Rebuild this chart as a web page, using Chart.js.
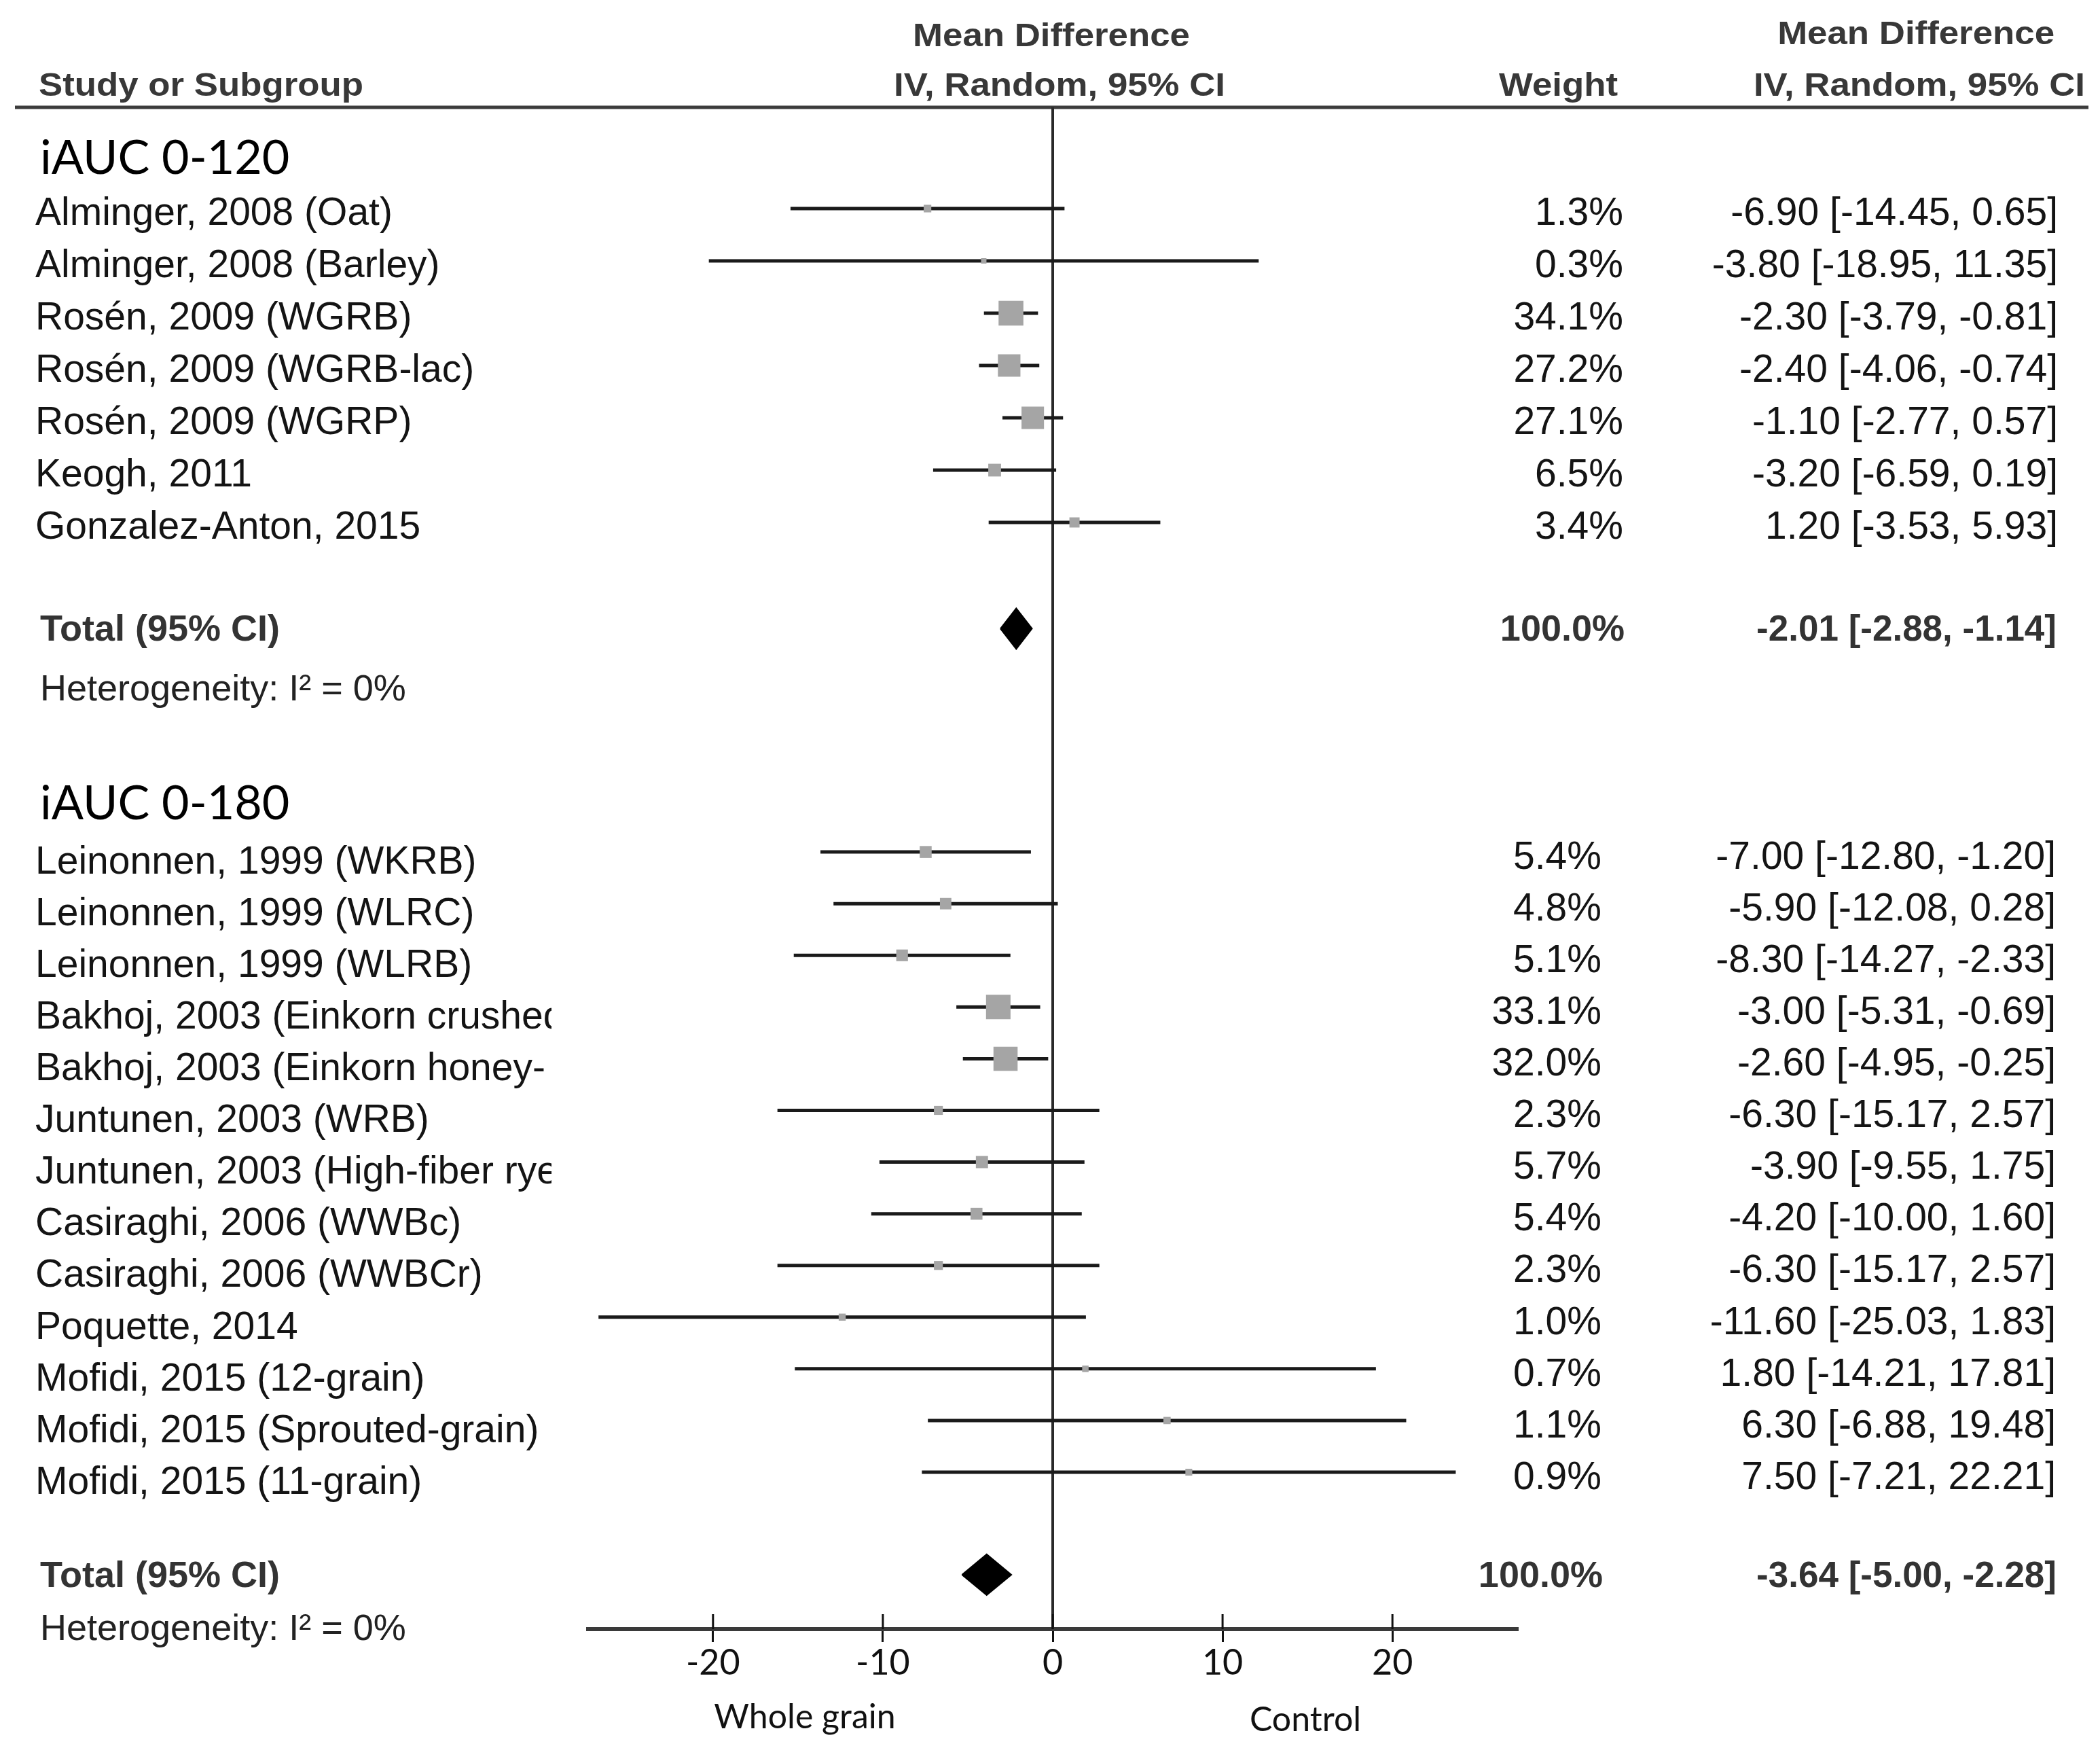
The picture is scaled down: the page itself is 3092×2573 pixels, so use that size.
<!DOCTYPE html>
<html>
<head>
<meta charset="utf-8">
<title>Forest plot - iAUC</title>
<script src="https://cdn.jsdelivr.net/npm/chart.js@4.4.1/dist/chart.umd.min.js"></script>
<style>
    html, body { margin: 0; padding: 0; background: #ffffff; }
    canvas { display: block; }
</style>
</head>
<body>
<canvas id="forestChart" width="3092" height="2573"></canvas>
<script>
// iAUC 0-120
const studies120 = ['Alminger, 2008 (Oat)', 'Alminger, 2008 (Barley)', 'Rosén, 2009 (WGRB)', 'Rosén, 2009 (WGRB-lac)',
    'Rosén, 2009 (WGRP)', 'Keogh, 2011', 'Gonzalez-Anton, 2015'];
const md120 = [-6.90, -3.80, -2.30, -2.40, -1.10, -3.20, 1.20];
const lo120 = [-14.45, -18.95, -3.79, -4.06, -2.77, -6.59, -3.53];
const hi120 = [0.65, 11.35, -0.81, -0.74, 0.57, 0.19, 5.93];
const weight120 = [1.3, 0.3, 34.1, 27.2, 27.1, 6.5, 3.4];

// iAUC 0-180 (long labels are cut off in the original)
const studies180 = ['Leinonnen, 1999 (WKRB)', 'Leinonnen, 1999 (WLRC)', 'Leinonnen, 1999 (WLRB)',
    'Bakhoj, 2003 (Einkorn crushed', 'Bakhoj, 2003 (Einkorn honey-', 'Juntunen, 2003 (WRB)',
    'Juntunen, 2003 (High-fiber rye', 'Casiraghi, 2006 (WWBc)', 'Casiraghi, 2006 (WWBCr)', 'Poquette, 2014',
    'Mofidi, 2015 (12-grain)', 'Mofidi, 2015 (Sprouted-grain)', 'Mofidi, 2015 (11-grain)'];
const md180 = [-7.00, -5.90, -8.30, -3.00, -2.60, -6.30, -3.90, -4.20, -6.30, -11.60, 1.80, 6.30, 7.50];
const lo180 = [-12.80, -12.08, -14.27, -5.31, -4.95, -15.17, -9.55, -10.00, -15.17, -25.03, -14.21, -6.88, -7.21];
const hi180 = [-1.20, 0.28, -2.33, -0.69, -0.25, 2.57, 1.75, 1.60, 2.57, 1.83, 17.81, 19.48, 22.21];
const weight180 = [5.4, 4.8, 5.1, 33.1, 32.0, 2.3, 5.7, 5.4, 2.3, 1.0, 0.7, 1.1, 0.9];

// pooled results
const groupNames = ['iAUC 0-120', 'iAUC 0-180'];
const totalMd = [-2.01, -3.64];
const totalLo = [-2.88, -5.00];
const totalHi = [-1.14, -2.28];
const totalWeight = [100.0, 100.0];
const heterogeneity = ['Heterogeneity: I² = 0%', 'Heterogeneity: I² = 0%'];

// axis
const axisTicks = [-20, -10, 0, 10, 20];
const axisLeftLabel = 'Whole grain';
const axisRightLabel = 'Control';

// ---- layout (pixels / row units) ----
const W = 3092, H = 2573;
const ROW_PX = 77;
const FIRST_ROW_PX = 307;
const AXIS_Y = 2398;
const PLOT_LEFT = 866, PLOT_RIGHT = 2234;
const DATA_HALF = 25.6;   // marks scale
const AXIS_HALF = 27.35;  // printed axis scale
const SANS = '"Liberation Sans", Arial, sans-serif';
const CAL = 'Lato, "Open Sans", sans-serif';

function buildGroup(names, md, lo, hi, w, first, pitch) {
    return names.map((n, i) => ({ name: n, md: md[i], lo: lo[i], hi: hi[i], w: w[i], slot: first + i * pitch }));
}

const g1First = 0;
const rows120 = buildGroup(studies120, md120, lo120, hi120, weight120, g1First, 1);
const total1Slot = rows120[rows120.length - 1].slot + 2.03;
const g2First = total1Slot + 4.27;
const rows180 = buildGroup(studies180, md180, lo180, hi180, weight180, g2First, 0.988);
const total2Slot = rows180[rows180.length - 1].slot + 1.96;

const groups = [
    { rows: rows120, first: g1First, header: 0.96, total: total1Slot, het: 1.18,
      labelDy: 8, valueDy: 8, weightRight: 2390, ciRight: 3030 },
    { rows: rows180, first: g2First, header: 0.92, total: total2Slot, het: 1.05,
      labelDy: 16, valueDy: 9, weightRight: 2358, ciRight: 3027 }
];
const allRows = rows120.concat(rows180);

function ciText(m, l, h) {
    return m.toFixed(2) + ' [' + l.toFixed(2) + ', ' + h.toFixed(2) + ']';
}

// ---- datasets ----
const ciDatasets = allRows.map(r => ({
    type: 'line',
    data: [{ x: r.lo, y: r.slot }, { x: r.hi, y: r.slot }],
    borderColor: '#1a1a1a',
    borderWidth: 5,
    pointRadius: 0,
    fill: false,
    order: 3,
    clip: false
}));

const squareDataset = {
    type: 'scatter',
    data: allRows.map(r => ({ x: r.md, y: r.slot })),
    pointStyle: 'rect',
    pointRadius: allRows.map(r => (5 + 5.4 * Math.sqrt(r.w)) / Math.SQRT2),
    backgroundColor: '#a5a5a5',
    borderWidth: 0,
    order: 1,
    clip: false
};

const DIAMOND_H = 0.39;
const diamondDatasets = groups.map((g, i) => ({
    type: 'line',
    data: [
        { x: totalLo[i], y: g.total },
        { x: totalMd[i], y: g.total - DIAMOND_H },
        { x: totalHi[i], y: g.total },
        { x: totalMd[i], y: g.total + DIAMOND_H },
        { x: totalLo[i], y: g.total }
    ],
    borderColor: '#000000',
    backgroundColor: '#000000',
    borderWidth: 2,
    pointRadius: 0,
    tension: 0,
    fill: 'shape',
    order: 0,
    clip: false
}));

function drawText(ctx, text, x, y, font, color, align, sx) {
    ctx.save();
    ctx.font = font;
    ctx.fillStyle = color;
    ctx.textAlign = align;
    ctx.textBaseline = 'middle';
    ctx.translate(x, y);
    ctx.scale(sx || 1, 1);
    ctx.fillText(text, 0, 0);
    ctx.restore();
}

const forestDecor = {
    id: 'forestDecor',
    beforeDatasetsDraw(chart) {
        const ctx = chart.ctx;
        const x0 = chart.scales.x.getPixelForValue(0);
        ctx.save();
        // header rule
        ctx.strokeStyle = '#3c3c3c';
        ctx.lineWidth = 5;
        ctx.beginPath();
        ctx.moveTo(22, 158);
        ctx.lineTo(3075, 158);
        ctx.stroke();
        // line of no effect
        ctx.strokeStyle = '#2a2a2a';
        ctx.lineWidth = 4;
        ctx.beginPath();
        ctx.moveTo(x0, 158);
        ctx.lineTo(x0, chart.chartArea.bottom);
        ctx.stroke();
        ctx.restore();
    },
    afterDraw(chart) {
        const ctx = chart.ctx;
        const yS = chart.scales.y;
        const xA = chart.scales.xAxis;

        // upper half of axis tick marks
        ctx.save();
        ctx.strokeStyle = '#111111';
        ctx.lineWidth = 3;
        axisTicks.forEach(v => {
            const px = xA.getPixelForValue(v);
            ctx.beginPath();
            ctx.moveTo(px, AXIS_Y - 22);
            ctx.lineTo(px, AXIS_Y);
            ctx.stroke();
        });
        ctx.restore();

        // column headers
        const hb = 'bold 48px ' + SANS;
        const hc = '#383838';
        drawText(ctx, 'Mean Difference', 1548, 55, hb, hc, 'center', 1.1);
        drawText(ctx, 'IV, Random, 95% CI', 1560, 128, hb, hc, 'center', 1.1);
        drawText(ctx, 'Study or Subgroup', 57, 128, hb, hc, 'left', 1.1);
        drawText(ctx, 'Weight', 2382, 128, hb, hc, 'right', 1.1);
        drawText(ctx, 'Mean Difference', 3025, 52, hb, hc, 'right', 1.1);
        drawText(ctx, 'IV, Random, 95% CI', 3070, 128, hb, hc, 'right', 1.1);

        const rowFont = '57px ' + SANS;
        const boldFont = 'bold 54px ' + SANS;
        groups.forEach((g, gi) => {
            drawText(ctx, groupNames[gi], 59, yS.getPixelForValue(g.first - g.header), '70px ' + CAL, '#000000', 'left');

            ctx.save();
            ctx.beginPath();
            ctx.rect(0, 0, 812, H);
            ctx.clip();
            g.rows.forEach(r => {
                drawText(ctx, r.name, 52, yS.getPixelForValue(r.slot) + g.labelDy, rowFont, '#141414', 'left');
            });
            ctx.restore();

            g.rows.forEach(r => {
                const py = yS.getPixelForValue(r.slot) + g.valueDy;
                drawText(ctx, r.w.toFixed(1) + '%', g.weightRight, py, rowFont, '#141414', 'right');
                drawText(ctx, ciText(r.md, r.lo, r.hi), g.ciRight, py, rowFont, '#141414', 'right');
            });

            const ty = yS.getPixelForValue(g.total) + 3;
            drawText(ctx, 'Total (95% CI)', 59, ty, boldFont, '#333333', 'left');
            drawText(ctx, totalWeight[gi].toFixed(1) + '%', g.weightRight + 2, ty, boldFont, '#333333', 'right');
            drawText(ctx, ciText(totalMd[gi], totalLo[gi], totalHi[gi]), 3028, ty, 'bold 53px ' + SANS, '#333333', 'right');
            drawText(ctx, heterogeneity[gi], 59, yS.getPixelForValue(g.total + g.het), '54px ' + SANS, '#222222', 'left');
        });

        // favours labels
        drawText(ctx, axisLeftLabel, 1185, 2528, '50px ' + CAL, '#111111', 'center');
        drawText(ctx, axisRightLabel, 1922, 2532, '50px ' + CAL, '#111111', 'center');
    }
};

const config = {
    type: 'line',
    data: { datasets: [diamondDatasets[0], diamondDatasets[1], squareDataset].concat(ciDatasets) },
    options: {
        responsive: false,
        devicePixelRatio: 1,
        animation: false,
        events: [],
        layout: {
            autoPadding: false,
            padding: { left: PLOT_LEFT, right: W - PLOT_RIGHT, top: 0, bottom: 0 }
        },
        plugins: {
            legend: { display: false },
            title: { display: false },
            tooltip: { enabled: false }
        },
        scales: {
            x: { type: 'linear', axis: 'x', display: false, min: -DATA_HALF, max: DATA_HALF },
            xAxis: {
                type: 'linear',
                axis: 'x',
                position: 'bottom',
                min: -AXIS_HALF,
                max: AXIS_HALF,
                afterBuildTicks: s => { s.ticks = axisTicks.map(v => ({ value: v })); },
                afterFit: s => { s.height = H - AXIS_Y; },
                grid: { drawOnChartArea: false, drawTicks: true, tickLength: 19, lineWidth: 3, color: '#111111' },
                border: { display: true, width: 6, color: '#3a3a3a' },
                ticks: {
                    padding: 0,
                    maxRotation: 0,
                    autoSkip: false,
                    color: '#111111',
                    font: { family: CAL, size: 52 },
                    callback: v => String(v)
                }
            },
            y: {
                type: 'linear',
                display: false,
                reverse: true,
                min: -FIRST_ROW_PX / ROW_PX,
                max: (AXIS_Y - FIRST_ROW_PX) / ROW_PX
            }
        }
    },
    plugins: [forestDecor]
};

new Chart(document.getElementById('forestChart'), config);
</script>
</body>
</html>
